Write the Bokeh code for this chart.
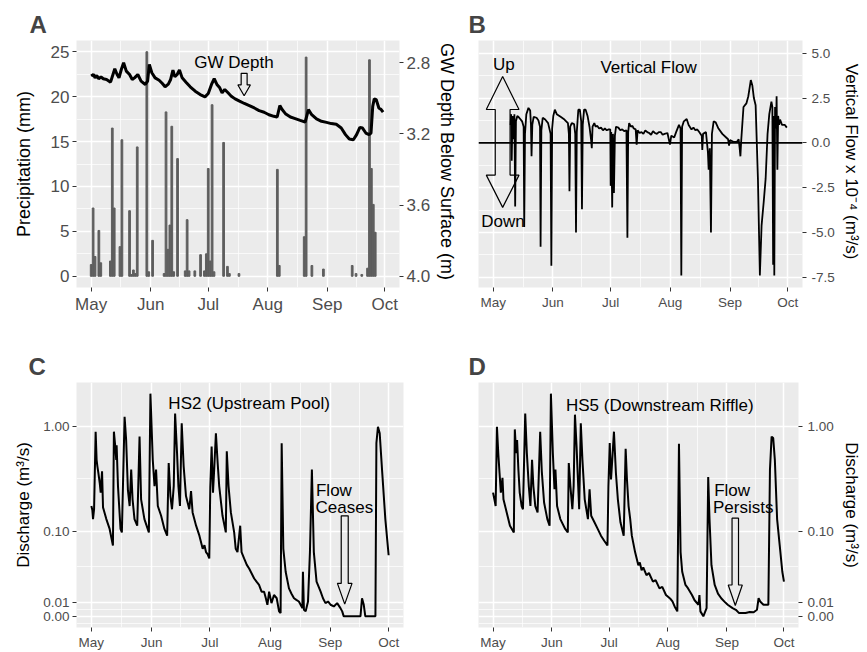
import numpy as np
from bokeh.plotting import figure
from bokeh.models import (Range1d, LinearAxis, FixedTicker, PrintfTickFormatter,
                          Span, PolyAnnotation, Label)
from bokeh.layouts import row, column
from bokeh.embed import file_html
from bokeh.resources import INLINE

FONT = "Liberation Sans"
BG = "#EBEBEB"

# ---------------- axis ticks (x = days since 1 May) ----------------
month_days = [0, 31, 61, 92, 123, 153]
month_labels = ["May", "Jun", "Jul", "Aug", "Sep", "Oct"]
month_minor = [15.5, 46, 76.5, 107.5, 138]

# ---------------- Panel A: precipitation (mm) ----------------
precip_day = [0, 1, 2, 4, 5, 10, 11, 12, 15, 16, 20, 21, 22, 23, 24, 29, 30, 32,
              38, 39, 40, 41, 42, 43, 45, 49, 50, 51, 54, 57, 59, 60, 61, 62, 63, 64,
              69, 71, 72, 77, 97, 98, 111, 112, 115, 121, 136, 138, 141, 144, 145,
              146, 147, 148]
precip_mm = [1.3, 7.6, 2.2, 5.1, 1.5, 1.7, 16.5, 7.6, 3.3, 15.2, 7.3, 0.2, 0.7, 0.3,
             14.4, 25.0, 0.5, 4.0, 0.3, 18.3, 3.0, 5.7, 16.7, 0.5, 13.1, 0.6, 6.3, 0.6,
             0.6, 2.4, 0.6, 2.5, 12.0, 1.7, 19.1, 0.5, 14.9, 1.1, 0.3, 0.3, 11.9, 1.2,
             4.4, 24.4, 1.2, 0.8, 1.2, 0.3, 0.2, 0.9, 24.1, 12.0, 8.0, 4.9]

# groundwater depth below surface (m)
gw_day = [0.0, 1.2, 2.05, 2.9, 3.9, 5.1, 6.3, 8.0, 10.1, 12.3, 13.5, 14.5, 15.7, 16.9,
          18.3, 20.0, 21.4, 22.6, 24.3, 26.0, 28.2, 29.4, 30.3, 31.6, 33.3, 35.4, 37.1,
          38.5, 40.2, 41.4, 42.6, 43.6, 44.8, 46.0, 47.4, 49.4, 51.6, 54.2, 56.8, 59.3,
          61.0, 62.7, 64.1, 65.5, 67.0, 68.2, 69.6, 71.3, 73.0, 75.0, 77.3, 79.8, 82.4,
          85.0, 87.5, 90.1, 92.6, 95.2, 96.9, 98.3, 99.5, 101.2, 103.8, 106.3, 108.9,
          111.5, 113.2, 114.9, 117.4, 120.0, 122.6, 125.1, 127.7, 130.3, 132.5, 134.5,
          136.6, 138.3, 140.0, 141.4, 143.1, 144.8, 145.8, 146.7, 147.5, 148.5, 149.9,
          151.1, 152.1]
gw_depth = [2.875, 2.866, 2.885, 2.871, 2.890, 2.879, 2.890, 2.894, 2.909, 2.834, 2.866,
            2.885, 2.838, 2.800, 2.847, 2.866, 2.894, 2.885, 2.866, 2.903, 2.922, 2.903,
            2.809, 2.856, 2.885, 2.898, 2.917, 2.935, 2.920, 2.894, 2.841, 2.879, 2.866,
            2.841, 2.885, 2.909, 2.935, 2.960, 2.979, 2.992, 2.973, 2.922, 2.890, 2.922,
            2.941, 2.969, 2.950, 2.969, 2.988, 3.003, 3.016, 3.029, 3.041, 3.054, 3.069,
            3.078, 3.092, 3.101, 3.105, 3.041, 3.063, 3.086, 3.105, 3.114, 3.124, 3.133,
            3.063, 3.092, 3.116, 3.129, 3.135, 3.142, 3.146, 3.167, 3.204, 3.229, 3.233,
            3.204, 3.163, 3.167, 3.195, 3.204, 3.195, 3.045, 3.003, 3.007, 3.054, 3.063,
            3.078]
precip_ticks = [0, 5, 10, 15, 20, 25]
gw_ticks = [2.8, 3.2, 3.6, 4.0]

# ---------------- Panel B: vertical flow (x 1e-4 m3/s) ----------------
vf_day = [9.0, 9.3, 9.6, 10.0, 10.5, 11.0, 11.4, 11.8, 12.5, 13.5, 15.0, 15.8, 16.1, 16.5,
          17.2, 18.3, 19.2, 19.6, 19.9, 20.3, 21.0, 22.5, 23.5, 24.3, 24.6, 25.0, 25.7,
          27.0, 28.5, 29.8, 30.2, 30.6, 31.2, 32.0, 33.0, 35.0, 37.0, 38.8, 39.3, 39.6,
          40.0, 40.8, 42.0, 42.6, 43.0, 43.4, 44.2, 45.0, 45.7, 46.1, 46.5, 47.2, 48.0,
          49.0, 50.0, 50.8, 51.2, 51.6, 52.5, 53.2, 54.0, 55.0, 56.0, 57.0, 58.0, 59.0,
          60.0, 60.8, 61.0, 61.3,
          61.8, 62.2, 62.7, 63.2, 63.8, 65.0, 66.0, 67.0, 68.0, 69.2, 69.7, 70.1, 70.6,
          71.5, 72.3, 73.0,
          74.0, 74.5, 75.0, 76.0, 77.0, 78.0, 79.0, 80.0, 81.0, 82.0, 83.0, 84.0, 85.0,
          86.0, 87.0, 88.0, 89.0, 90.5, 91.8, 92.5,
          94.0, 95.0, 96.5, 97.3, 97.7, 98.1, 99.0, 100.5, 101.5, 103.0, 104.0, 105.0,
          106.0, 107.0,
          108.3, 108.6, 109.0, 110.5, 111.5, 111.9, 112.5, 113.1, 113.6, 114.5, 115.5,
          117.0, 119.0, 121.0, 122.0, 122.5, 123.0, 125.0, 126.5, 127.5, 128.0, 128.4,
          128.8, 130.0, 131.5, 132.5, 133.8, 134.6, 135.4, 136.3, 137.5, 138.5, 139.4,
          140.5, 141.5, 142.5, 143.4, 144.5, 145.0, 145.4, 145.8, 146.0, 146.4, 146.9,
          147.2, 147.6, 148.0, 148.5, 149.0, 150.0, 151.5, 152.5]
vf_value = [1.0, 1.6, -1.0, 1.5, 0.2, 1.6, -3.55, 1.2, 1.5, 1.4, 1.2, 0.9, -4.7, 0.5,
            1.6, 1.95, 1.8, 1.0, -0.75, 1.0, 1.45, 1.4, 1.25, 0.9, -5.8, 0.7, 1.4,
            1.3, 1.1, 0.5, -6.85, 0.8, 1.5, 1.85, 1.6, 1.45, 1.3, 1.1, 0.5, -2.7,
            0.9, 1.1, 1.05, 0.5, -5.0, 0.6, 1.85, 1.85, 1.2, -3.7, 1.0, 1.85, 1.85,
            1.5, 0.9, 0.2, -0.3, 0.9, 1.1, 0.9, 0.95, 0.8, 0.85, 0.7, 0.8, 0.7,
            0.75, 0.75, -2.4, 0.6,
            -3.6, 0.5, -2.8, 0.4, 0.9, 0.85, 0.7, 0.75, 0.65, 0.7, -5.3, 0.6, 1.1,
            0.9, 0.95, 0.8,
            0.75, -0.1, 0.7, 0.55, 0.6, 0.5, 0.7, 0.6, 0.55, 0.45, 0.65, 0.55, 0.5,
            0.6, 0.6, 0.45, 0.5, 0.55, -0.1, 0.4,
            0.3, 0.6, 1.0, 0.8, -7.4, 0.9, 1.2, 1.33, 1.0, 0.75, 0.85, 0.7,
            0.75, 0.6,
            0.4, -0.4, 0.5, 0.6, -0.5, -1.5, -0.3, -5.0, 0.5, 1.2, 1.15,
            0.8, 0.5, 0.3, 0.2, -0.15, 0.15, 0.05, 0.05, 0.2, -0.3, -0.75,
            0.1, 2.0, 2.2, 2.6, 3.5, 3.2, 2.5, 2.1, -2.0, -7.4, -4.6,
            -3.3, -2.0, 0.5, 1.6, 2.3, 2.0, -6.8, 1.5, -7.4, 2.0, 0.8,
            2.6, -1.5, 1.5, 1.0, 1.3, 1.0, 1.0, 0.85]
vf_ticks = [-7.5, -5.0, -2.5, 0.0, 2.5, 5.0]
vf_minor = [-6.25, -3.75, -1.25, 1.25, 3.75]

# ---------------- Panel C: HS2 discharge (m3/s) ----------------
hs2_day = [0.0, 0.5, 0.85, 1.4, 2.2, 2.7, 3.1, 3.6, 4.3, 4.8, 5.5, 6.0, 7.7, 9.4, 11.1,
           11.6, 12.3, 12.8, 13.0, 13.7, 15.0, 15.7, 17.1, 17.9, 18.8, 19.7, 20.5, 21.2,
           22.2, 23.6, 24.8, 25.6, 27.3, 29.6, 30.4, 31.6, 32.5, 33.3, 34.2, 35.9, 37.6,
           39.0, 39.8, 40.7, 41.5, 42.4, 43.1, 44.1, 44.8, 45.6, 46.5, 47.5, 48.7, 50.4,
           51.3, 52.1, 53.9, 55.6, 57.3, 58.2, 59.0, 59.8, 60.7, 61.2, 61.9, 62.6, 63.3,
           64.1, 65.0, 65.8, 67.5, 69.2, 69.7, 70.6, 71.8, 73.5, 74.3, 75.2, 76.6, 77.3,
           78.6, 80.0, 81.2, 82.5, 83.8, 85.0, 86.3, 87.6, 88.9, 89.8, 90.6, 91.5, 92.7,
           94.0, 95.4, 96.6, 97.4, 97.95, 98.8, 100.0, 101.7, 103.0, 104.3, 105.5, 106.8,
           108.6, 108.9,
           109.4, 110.3, 111.5, 112.5, 113.5, 114.5, 115.9, 118.0, 119.2, 120.5, 121.8,
           123.1, 124.8, 126.5, 128.2, 129.1, 129.9, 138.5, 139.3, 140.2, 141.0, 146.2,
           146.7, 147.5, 148.4, 149.6, 151.3, 153.0]
hs2_q = [0.175, 0.16, 0.131, 0.163, 0.885, 0.48, 0.417, 0.361, 0.29, 0.235, 0.374, 0.17,
         0.131, 0.105, 0.0716, 0.885, 0.64, 0.48, 0.66, 0.271, 0.105, 0.097, 1.22, 0.74,
         0.25, 0.175, 0.388, 0.203, 0.131, 0.113, 0.795, 0.203, 0.131, 0.097, 2.02, 0.48,
         0.271, 0.388, 0.175, 0.141, 0.105, 0.090, 0.448, 0.218, 0.163, 0.271, 1.31,
         0.556, 0.271, 0.175, 1.06, 0.417, 0.218, 0.163, 0.243, 0.152, 0.113, 0.090,
         0.066, 0.072, 0.061, 0.058, 0.052, 0.262, 0.64, 0.235, 0.417, 0.855, 0.448,
         0.271, 0.141, 0.097, 0.577, 0.271, 0.152, 0.097, 0.066, 0.061, 0.113, 0.061,
         0.052, 0.044, 0.0398, 0.0345, 0.0296, 0.0266, 0.0237, 0.0181, 0.0181, 0.0130,
         0.0082, 0.0181, 0.0094, 0.0155, 0.013, 0.0035, 0.0023, 0.69, 0.066, 0.0363,
         0.0208, 0.0165, 0.013, 0.0118, 0.0106, 0.0058, 0.0363,
         0.0046, 0.0035, 0.0106, 0.061, 0.388, 0.061, 0.0266, 0.0181, 0.013, 0.0094,
         0.0106, 0.0082, 0.0070, 0.0094, 0.0058, 0.0035, 0.0, 0.0, 0.013, 0.0082, 0.0,
         0.0, 0.69, 0.985, 0.855, 0.388, 0.131, 0.0564]

# ---------------- Panel D: HS5 discharge (m3/s) ----------------
hs5_day = [0.0, 0.85, 1.37, 2.05, 2.74, 3.42, 4.10, 4.96, 5.47, 7.18, 8.89, 10.94, 11.45,
           12.14, 12.65, 13.33, 14.02, 15.04, 15.73, 16.92, 17.78, 18.80, 19.66, 20.51,
           21.20, 22.22, 23.42, 24.79, 25.64, 26.84, 28.55, 29.74, 30.43, 31.45, 32.31,
           32.82, 33.68, 35.38, 37.95, 39.32, 39.83, 40.68, 41.71, 42.39, 43.08, 43.93,
           44.79, 45.30, 46.15, 47.01, 48.21, 49.91, 50.77, 51.62, 53.33, 55.04, 56.75,
           58.46, 60.17, 60.68, 61.37, 62.05, 62.91, 63.59, 64.62, 65.64, 67.01, 68.72,
           69.74, 70.43, 71.28, 72.14, 72.99, 74.70, 76.41, 77.2, 78.12, 79.0, 80.68,
           82.0, 84.10, 85.5, 87.52, 89.0, 90.94, 92.5, 93.5, 94.36, 95.5,
           96.92, 97.78, 98.63, 99.49, 101.20, 102.5, 104.62, 106.0, 108.03, 108.55,
           109.06, 110.60, 112.31, 113.16, 113.85, 114.87, 116.58, 118.3, 120.0, 121.7,
           123.42, 125.98, 127.7, 129.40, 132.82, 135.0, 137.09, 138.80, 139.66, 140.51,
           142.22, 144.79, 145.64, 146.50, 147.35, 148.21, 149.40, 150.77, 152.14, 153.0]
hs5_q = [0.235, 0.196, 0.175, 0.985, 0.556, 0.361, 0.235, 0.325, 0.203, 0.152, 0.113,
         0.097, 0.93, 0.556, 0.74, 0.388, 0.235, 0.175, 0.163, 1.31, 0.556, 0.271, 0.175,
         0.48, 0.271, 0.175, 0.152, 0.885, 0.374, 0.189, 0.131, 0.113, 2.02, 0.556, 0.253,
         0.388, 0.175, 0.131, 0.105, 0.097, 0.448, 0.271, 0.163, 0.271, 1.28, 0.64, 0.271,
         0.163, 1.06, 0.48, 0.203, 0.131, 0.253, 0.141, 0.122, 0.105, 0.090, 0.080,
         0.0716, 0.271, 0.69, 0.313, 0.556, 0.885, 0.361, 0.203, 0.122, 0.090, 0.61,
         0.313, 0.175, 0.131, 0.090, 0.061, 0.0436, 0.047, 0.038, 0.041, 0.0328,
         0.035, 0.0266, 0.028, 0.0208, 0.022, 0.0155, 0.0135, 0.0122, 0.0106, 0.007,
         0.0035, 0.68, 0.061, 0.0363, 0.0237, 0.021, 0.0155, 0.0115, 0.0082, 0.0155,
         0.0035, 0.0, 0.0058, 0.33, 0.131, 0.0436, 0.0237, 0.0165, 0.013, 0.0105,
         0.0082, 0.0058, 0.0046, 0.0023, 0.0023, 0.003, 0.0029, 0.0046, 0.013, 0.0106,
         0.0082, 0.0082, 0.388, 0.795, 0.77, 0.48, 0.131, 0.0716, 0.0363, 0.0266]
q_ticks = [0.0, 0.01, 0.1, 1.0]
q_labels = ["0.00", "0.01", "0.10", "1.00"]


def pseudo_log(q):
    """pseudo-log (asinh) transform used for the discharge axis"""
    return np.arcsinh(np.asarray(q, dtype=float) * 31.0)


X_RANGE = (-7.65, 160.65)


def style_axis(ax, tick_size, title_size="17px"):
    ax.axis_line_color = None
    ax.major_tick_line_color = "#333333"
    ax.major_tick_line_width = 1
    ax.major_tick_in = 0
    ax.major_tick_out = 4
    ax.minor_tick_line_color = None
    ax.major_label_text_color = "#4D4D4D"
    ax.major_label_text_font = FONT
    ax.major_label_text_font_size = tick_size
    ax.major_label_standoff = 3
    ax.axis_label_text_font = FONT
    ax.axis_label_text_font_style = "normal"
    ax.axis_label_text_color = "black"
    ax.axis_label_text_font_size = title_size


def make_fig(width, height, bl, br, bt, bb, y_range, y_loc, letter, letter_off,
             xtick_size):
    p = figure(width=width, height=height, x_range=Range1d(*X_RANGE), y_range=y_range,
               y_axis_location=y_loc, toolbar_location=None, output_backend="svg",
               min_border_left=bl, min_border_right=br, min_border_top=bt,
               min_border_bottom=bb, title=letter)
    p.background_fill_color = BG
    p.border_fill_color = "white"
    p.outline_line_color = None
    p.title.text_font = FONT
    p.title.text_font_size = "24px"
    p.title.text_font_style = "bold"
    p.title.align = "left"
    p.title.offset = letter_off
    p.title.standoff = 5
    xt = FixedTicker(ticks=month_days, minor_ticks=month_minor)
    p.xaxis.ticker = xt
    p.xgrid.ticker = xt
    p.xaxis.major_label_overrides = {d: l for d, l in zip(month_days, month_labels)}
    style_axis(p.xaxis[0], xtick_size)
    for g in (p.xgrid[0], p.ygrid[0]):
        g.grid_line_color = "white"
        g.grid_line_width = 1.5
        g.minor_grid_line_color = "white"
        g.minor_grid_line_width = 0.7
    return p


def poly(xs, ys):
    return PolyAnnotation(xs=xs, ys=ys, fill_color=None, fill_alpha=0,
                          line_color="black", line_alpha=1.0, line_width=1.2)


def down_arrow(cx, hs, hh, top, hb, tip):
    return poly([cx - hs, cx + hs, cx + hs, cx + hh, cx, cx - hh, cx - hs],
                [top, top, hb, hb, tip, hb, hb])


def label(x, y, text, align="center", size="17px"):
    return Label(x=x, y=y, text=text, text_font=FONT, text_font_size=size,
                 text_align=align, text_baseline="middle", text_color="black")


# ---------------- Panel A ----------------
pA = make_fig(460, 316, 76, 57, 40, 29, Range1d(-1.25, 26.25), "left", "A", -47, "17px")
yt = FixedTicker(ticks=precip_ticks, minor_ticks=[2.5, 7.5, 12.5, 17.5, 22.5])
pA.yaxis.ticker = yt
pA.ygrid.ticker = yt
style_axis(pA.yaxis[0], "17px", "18px")
pA.yaxis.axis_label = "Precipitation (mm)"
pA.yaxis.axis_label_standoff = 14
pA.extra_y_ranges = {"gw": Range1d(4.063, 2.675)}
ax_gw = LinearAxis(y_range_name="gw", ticker=FixedTicker(ticks=gw_ticks),
                   formatter=PrintfTickFormatter(format="%.1f"),
                   axis_label="GW  Depth Below Surface (m)")
style_axis(ax_gw, "17px", "18px")
ax_gw.axis_label_standoff = 4
pA.add_layout(ax_gw, "right")
pA.vbar(x=precip_day, top=precip_mm, bottom=0, width=0.9, color="#5E5E5E")
pA.line(gw_day, gw_depth, y_range_name="gw", line_width=3, color="black")
pA.add_layout(label(74.4, 23.8, "GW Depth"))
pA.add_layout(down_arrow(79.7, 1.55, 3.25, 22.6, 21.3, 20.1))

# ---------------- Panel B ----------------
pB = make_fig(403, 316, 18, 57, 40, 29, Range1d(-8.07, 5.71), "right", "B", -10, "13.5px")
vt = FixedTicker(ticks=vf_ticks, minor_ticks=vf_minor)
pB.yaxis.ticker = vt
pB.ygrid.ticker = vt
pB.yaxis.formatter = PrintfTickFormatter(format="%.1f")
style_axis(pB.yaxis[0], "13.5px")
pB.yaxis.major_label_standoff = 5
pB.yaxis.axis_label = "Vertical Flow  x 10\u207b\u2074 (m\u00b3/s)"
pB.yaxis.axis_label_standoff = 4
pB.add_layout(Span(location=0, dimension="width", line_color="black", line_width=1.8))
pB.line(vf_day, vf_value, line_width=1.8, color="black")
cx, hs, hh = 4.9, 3.85, 8.5
pB.add_layout(poly(
    [cx, cx + hh, cx + hs, cx + hs, cx + hh, cx, cx - hh, cx - hs, cx - hs, cx - hh],
    [3.7, 1.86, 1.86, -1.8, -1.8, -3.6, -1.8, -1.8, 1.86, 1.86]))
pB.add_layout(label(5.5, 4.36, "Up"))
pB.add_layout(label(5.1, -4.36, "Down"))
pB.add_layout(label(80.7, 4.23, "Vertical Flow"))

# ---------------- Panels C, D ----------------
u2 = pseudo_log(hs2_q)
u5 = pseudo_log(hs5_q)
lo = min(u2.min(), u5.min())
hi = max(u2.max(), u5.max())
span = hi - lo
qt_pos = [float(v) for v in pseudo_log(q_ticks)]
q_minor = [(qt_pos[i] + qt_pos[i + 1]) / 2 for i in range(3)] + [-qt_pos[1] / 2]
q_over = {pos: lab for pos, lab in zip(qt_pos, q_labels)}


def q_axis(p):
    t = FixedTicker(ticks=qt_pos, minor_ticks=q_minor)
    p.yaxis.ticker = t
    p.ygrid.ticker = t
    p.yaxis.major_label_overrides = q_over
    style_axis(p.yaxis[0], "13.5px")
    p.yaxis.axis_label = "Discharge (m\u00b3/s)"


pC = make_fig(460, 336, 76, 57, 66, 23, Range1d(lo - 0.05 * span, hi + 0.05 * span),
              "left", "C", -48, "13.5px")
q_axis(pC)
pC.yaxis.axis_label_standoff = 7
pC.line(hs2_day, u2, line_width=2, color="black")
pC.add_layout(label(81.2, 4.61, "HS2 (Upstream Pool)"))
pC.add_layout(label(115.6, 2.73, "Flow", align="left"))
pC.add_layout(label(115.4, 2.37, "Ceases", align="left"))
pC.add_layout(down_arrow(130.4, 1.8, 3.76, 2.18, 0.715, 0.265))

pD = make_fig(403, 336, 18, 57, 66, 23, Range1d(lo - 0.05 * span, hi + 0.05 * span),
              "right", "D", -10, "13.5px")
q_axis(pD)
pD.yaxis.major_label_standoff = 5
pD.yaxis.axis_label_standoff = 5
pD.line(hs5_day, u5, line_width=2, color="black")
pD.add_layout(label(87.7, 4.58, "HS5 (Downstream Riffle)"))
pD.add_layout(label(116.3, 2.72, "Flow", align="left"))
pD.add_layout(label(115.7, 2.36, "Persists", align="left"))
pD.add_layout(down_arrow(127.4, 1.7, 3.7, 2.13, 0.68, 0.236))

layout = column(row(pA, pB), row(pC, pD))
open("out.html", "w").write(file_html(layout, INLINE))
